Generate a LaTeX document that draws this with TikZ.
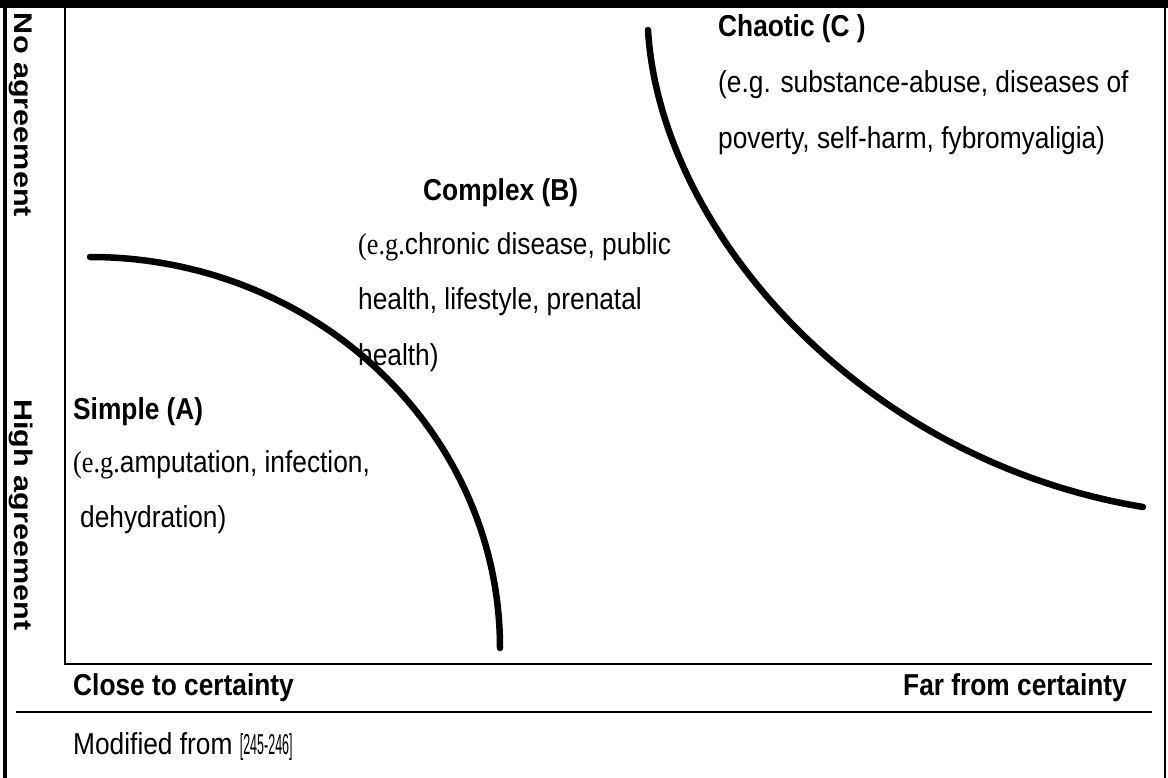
\documentclass[tikz,border=0pt]{standalone}
\usepackage{fontspec}
\setmainfont{Liberation Sans}
\newfontfamily\egserif{Liberation Serif}
\usepackage{graphicx}
\newcommand\stretchtxt[1]{\scalebox{1}[1.15]{#1}}
\newcommand\longtxt[1]{\scalebox{1.2}[1]{#1}}
\begin{document}
\begin{tikzpicture}[x=1pt,y=-1pt,
  txt/.style={anchor=base west, inner sep=0pt, font=\fontsize{26.3}{30}\selectfont},
  hd/.style={txt, font=\fontsize{26.3}{30}\selectfont\bfseries},
  vlab/.style={inner sep=0pt, anchor=center, rotate=-90, font=\fontsize{25.5}{30}\selectfont\bfseries},
  curve/.style={line width=6.5pt, line cap=round},
  frame/.style={line width=2pt}]
\useasboundingbox (0,0) rectangle (1168,778);
% outer frame
\fill (0,0) rectangle (1168,8);
\draw[line width=4pt] (5,0) -- (5,778);
\draw[line width=2.5pt] (1165,8) -- (1165,778);
% axes
\coordinate (Ytop) at (65,8);
\coordinate (O) at (65,664);
\coordinate (Xend) at (1152,664);
\draw[frame] (Ytop) -- (O) -- (Xend);
\coordinate (dl) at (16,712);
\coordinate (dr) at (1152,712);
\draw[frame] (dl) -- (dr);
% texts
\node[hd] (cT) at (718,37) {\stretchtxt{Chaotic (C )}};
\node[txt] (c2) at (718,93) {\stretchtxt{(e.g. substance-abuse, diseases of}};
\node[txt] (c3) at (718,149) {\stretchtxt{poverty, self-harm, fybromyaligia)}};
\node[hd] (bT) at (423,201) {\stretchtxt{Complex (B)}};
\node[txt] (b2) at (358,255) {\stretchtxt{{\egserif(e.g.}chronic disease, public}};
\node[txt] (b3) at (358,309) {\stretchtxt{health, lifestyle, prenatal}};
\node[txt] (b4) at (358,365) {\stretchtxt{health)}};
\node[hd] (aT) at (73,419) {\stretchtxt{Simple (A)}};
\node[txt] (a2) at (73,472) {\stretchtxt{{\egserif(e.g.}amputation, infection,}};
\node[txt] (a3) at (80,527) {\stretchtxt{dehydration)}};
\node[hd] (xl) at (73,695) {\stretchtxt{Close to certainty}};
\node[hd, anchor=base east] (xr) at (1127,695) {\stretchtxt{Far from certainty}};
\node[txt] (src) at (73,754) {\stretchtxt{Modified from \scalebox{0.5}[1]{\fontsize{25}{28}\selectfont[245-246]}}};
\node[vlab] (yt) at (21,115) {\longtxt{No agreement}};
\node[vlab] (yb) at (21,515) {\longtxt{High agreement}};
% curves
\coordinate (a0) at (90,257);
\coordinate (a1) at (500,648);
\draw[curve] (a0) .. controls (316,257) and (500,432) .. (a1);
\coordinate (c0) at (648,30);
\coordinate (c1) at (1143,507);
\draw[curve] (c0) .. controls (660,230) and (860,460) .. (c1);
\end{tikzpicture}
\end{document}
